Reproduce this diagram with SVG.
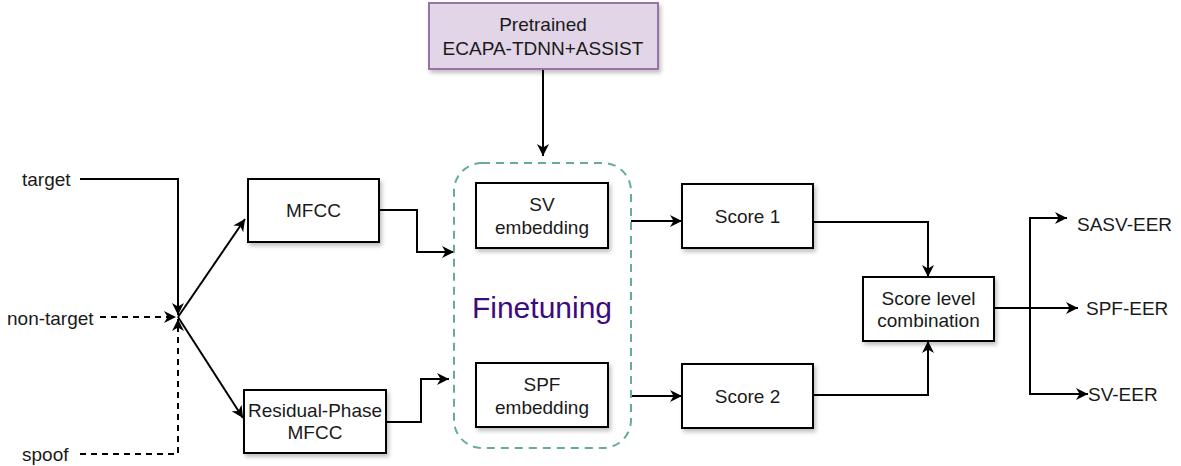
<svg xmlns="http://www.w3.org/2000/svg" width="1181" height="466" viewBox="0 0 1181 466">
  <style>
    .box { fill: #ffffff; stroke: #000000; stroke-width: 2; filter: url(#shadow); }
    .pre { fill: #e1d5e7; stroke: #9673a6; stroke-width: 2; filter: url(#shadow); }
    .group { fill: none; stroke: #67ab9f; stroke-width: 2; stroke-dasharray: 8 6; }
    .lbl { font-family: "Liberation Sans", Arial, sans-serif; font-size: 19px; fill: #1a1a1a; text-anchor: middle; dominant-baseline: central; }
    .side { font-family: "Liberation Sans", Arial, sans-serif; font-size: 19px; fill: #1a1a1a; dominant-baseline: central; }
    .title { font-family: "Liberation Sans", Arial, sans-serif; font-size: 30px; fill: #3d0a80; text-anchor: middle; dominant-baseline: central; }
    .wire { fill: none; stroke: #000000; stroke-width: 2; }
    .dash { stroke-dasharray: 6 5; }
    .arr { marker-end: url(#head); }
  </style>
  <defs>
    <filter id="shadow" x="-10%" y="-10%" width="130%" height="140%">
      <feDropShadow dx="2" dy="3" stdDeviation="2" flood-color="#000000" flood-opacity="0.25"/>
    </filter>
    <marker id="head" viewBox="0 0 10 10" refX="10" refY="5" markerWidth="12" markerHeight="12" markerUnits="userSpaceOnUse" orient="auto">
      <path d="M0,0 L10,5 L0,10 L3,5 z" fill="#000000"/>
    </marker>
  </defs>

  <rect width="1181" height="466" fill="#ffffff"/>

  <!-- connectors -->
  <g id="connectors">
    <!-- inputs to junction -->
    <path class="wire arr" d="M80,179 H178 V315"/>
    <path class="wire dash arr" d="M100,317 H176"/>
    <path class="wire dash arr" d="M80,454 H178 V319"/>
    <!-- junction to feature extractors -->
    <path class="wire arr" d="M178,317 L245,219"/>
    <path class="wire arr" d="M178,317 L243,418"/>
    <!-- features into finetuning block -->
    <path class="wire arr" d="M379,210 H417 V252 H454"/>
    <path class="wire arr" d="M386,422 H421 V379 H449"/>
    <!-- pretrained model into finetuning block -->
    <path class="wire arr" d="M543,69 V156"/>
    <!-- embeddings to scores -->
    <path class="wire arr" d="M631,221 H682"/>
    <path class="wire arr" d="M631,396 H682"/>
    <!-- scores to fusion -->
    <path class="wire arr" d="M813,222 H928 V277"/>
    <path class="wire arr" d="M813,395 H928 V341"/>
    <!-- fusion outputs -->
    <path class="wire arr" d="M994,308 H1078"/>
    <path class="wire arr" d="M1030,308 V218 H1067"/>
    <path class="wire arr" d="M1030,308 V394 H1088"/>
  </g>

  <!-- input labels -->
  <g id="inputs">
    <text class="side" x="22" y="179">target</text>
    <text class="side" x="7" y="318">non-target</text>
    <text class="side" x="22" y="454">spoof</text>
  </g>

  <g id="pretrained">
    <rect class="pre" x="429" y="3" width="229" height="66"/>
    <text class="lbl" x="543" y="24">Pretrained</text>
    <text class="lbl" x="543" y="48">ECAPA-TDNN+ASSIST</text>
  </g>

  <g id="finetuning">
    <rect class="group" x="454" y="163" width="177" height="285" rx="28" ry="28"/>
    <text class="title" x="542" y="307">Finetuning</text>
  </g>

  <g id="mfcc">
    <rect class="box" x="248" y="179" width="131" height="63"/>
    <text class="lbl" x="313.5" y="210.5">MFCC</text>
  </g>

  <g id="rp-mfcc">
    <rect class="box" x="244" y="390" width="142" height="63"/>
    <text class="lbl" x="315" y="410">Residual-Phase</text>
    <text class="lbl" x="315" y="432">MFCC</text>
  </g>

  <g id="sv-embedding">
    <rect class="box" x="476" y="183" width="132" height="65"/>
    <text class="lbl" x="542" y="204">SV</text>
    <text class="lbl" x="542" y="227">embedding</text>
  </g>

  <g id="spf-embedding">
    <rect class="box" x="476" y="363" width="132" height="64"/>
    <text class="lbl" x="542" y="384">SPF</text>
    <text class="lbl" x="542" y="407">embedding</text>
  </g>

  <g id="score1">
    <rect class="box" x="682" y="184" width="131" height="64"/>
    <text class="lbl" x="747.5" y="216">Score 1</text>
  </g>

  <g id="score2">
    <rect class="box" x="682" y="364" width="131" height="64"/>
    <text class="lbl" x="747.5" y="396">Score 2</text>
  </g>

  <g id="fusion">
    <rect class="box" x="863" y="277" width="131" height="64"/>
    <text class="lbl" x="928.5" y="298">Score level</text>
    <text class="lbl" x="928.5" y="320">combination</text>
  </g>

  <g id="outputs">
    <text class="side" x="1077" y="224">SASV-EER</text>
    <text class="side" x="1086" y="308">SPF-EER</text>
    <text class="side" x="1088" y="394">SV-EER</text>
  </g>
</svg>
